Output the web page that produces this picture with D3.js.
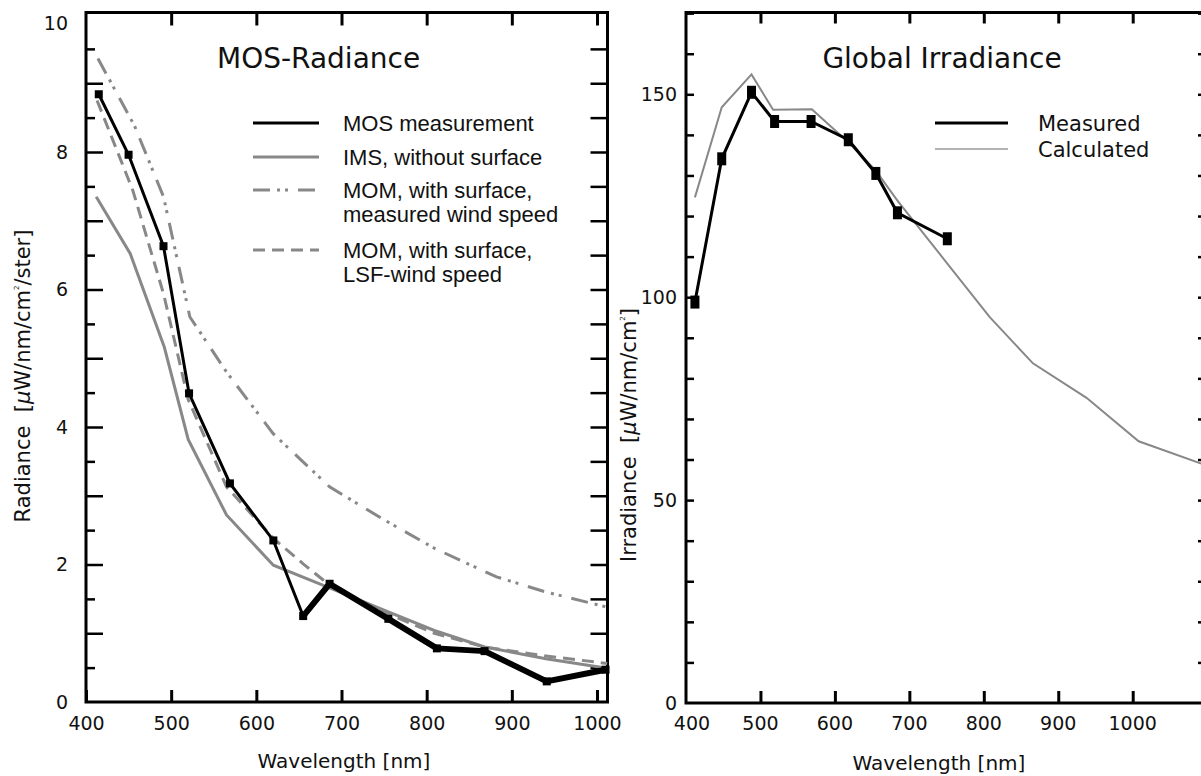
<!DOCTYPE html>
<html>
<head>
<meta charset="utf-8">
<script src="https://cdn.jsdelivr.net/npm/d3@7"></script>
<style>
  body { margin: 0; background: #fff; }
  .geo { font-family: 'DejaVu Sans', sans-serif; fill: #111; }
  .legend-text { font-family: 'Liberation Sans', Arial, sans-serif; font-size: 22px; fill: #111; }
</style>
</head>
<body>
<svg id="chart" width="1201" height="776"></svg>
<script>
// ---- MOS-Radiance panel data ----
const mosWavelength = [415, 450, 491, 521, 569, 620, 655, 686, 755, 812, 868, 941, 1010];
const mosRadiance   = [8.84, 7.96, 6.63, 4.49, 3.18, 2.35, 1.25, 1.72, 1.21, 0.78, 0.74, 0.30, 0.47];

const imsWavelength = [412, 452, 492, 520, 565, 620, 686, 755, 809, 868, 940, 1012];
const imsRadiance   = [7.35, 6.52, 5.16, 3.82, 2.72, 1.99, 1.66, 1.31, 1.04, 0.80, 0.63, 0.49];

const momMeasWavelength = [414, 457, 491, 522, 565, 620, 686, 750, 810, 882, 940, 1012];
const momMeasRadiance   = [9.36, 8.38, 7.35, 5.6, 4.8, 3.9, 3.13, 2.65, 2.23, 1.82, 1.60, 1.38];

const momLsfWavelength = [413, 455, 491, 520, 565, 620, 655, 686, 755, 809, 868, 940, 1012];
const momLsfRadiance   = [8.75, 7.44, 5.94, 4.4, 3.13, 2.38, 2.01, 1.70, 1.28, 1.0, 0.80, 0.67, 0.56];

const radianceLegend = [
  ['MOS measurement'],
  ['IMS, without surface'],
  ['MOM, with surface,', 'measured wind speed'],
  ['MOM, with surface,', 'LSF-wind speed']
];

// ---- Global Irradiance panel data ----
const measWavelength = [412, 448, 488, 519, 568, 618, 655, 684, 751];
const measIrradiance = [98.8, 134.1, 150.5, 143.3, 143.3, 138.8, 130.5, 120.8, 114.4];

const calcWavelength = [412, 448, 488, 517, 569, 618, 655, 684, 751, 808, 866, 938, 1008, 1092];
const calcIrradiance = [124.6, 146.8, 154.9, 146.2, 146.3, 138.2, 131.2, 123.8, 108.3, 95.1, 83.7, 75.2, 64.5, 59.0];

const irradianceLegend = ['Measured', 'Calculated'];

// ticks
const wavelengthTicks = [400, 500, 600, 700, 800, 900, 1000];
const radianceLabels = [0, 2, 4, 6, 8, 10];
const irradianceLabels = [0, 50, 100, 150];

const svg = d3.select('#chart');
const zip = (xs, ys) => xs.map((x, i) => [x, ys[i]]);
const grey = '#888';

// small helper: draw an axis, drop its domain line, style ticks
const drawAxis = (g, axis, tickWidth) => {
  g.call(axis);
  g.select('.domain').remove();
  g.selectAll('.tick line').attr('stroke', '#000').attr('stroke-width', tickWidth);
  g.selectAll('.tick text').attr('class', 'geo').attr('font-size', 19).attr('fill', '#111');
  return g;
};

// ================= Left panel =================
const xL = d3.scaleLinear().domain([400, 1000]).range([86, 597]);
const yL = d3.scaleLinear().domain([0, 10]).range([702, 14.5]);
const left = svg.append('g').attr('class', 'left-panel');

const halves = d3.range(0.5, 10, 0.5);
drawAxis(left.append('g').attr('transform', 'translate(0,702)'),
  d3.axisBottom(xL).tickValues(wavelengthTicks).tickSize(-12).tickPadding(15).tickFormat(d3.format('d')), 3);
drawAxis(left.append('g').attr('transform', 'translate(0,12.5)'),
  d3.axisTop(xL).tickValues(wavelengthTicks.slice(1)).tickSize(-13).tickFormat(''), 3);
drawAxis(left.append('g').attr('transform', 'translate(86,0)'),
  d3.axisLeft(yL).tickValues(halves.filter(d => d % 1 !== 0)).tickSize(-9).tickFormat(''), 2.5);
drawAxis(left.append('g').attr('transform', 'translate(86,0)'),
  d3.axisLeft(yL).tickValues(d3.range(1, 10)).tickSize(-17).tickFormat(''), 2.5);
// y labels (10 sits just under the frame top)
left.selectAll('text.ylab').data(radianceLabels).enter().append('text')
  .attr('class', 'geo ylab').attr('font-size', 19)
  .attr('x', 68).attr('y', d => Math.max(yL(d), 23)).attr('dy', '0.36em')
  .attr('text-anchor', 'end').text(d => d);
drawAxis(left.append('g').attr('transform', 'translate(607.5,0)'),
  d3.axisRight(yL).tickValues(halves).tickSize(-17).tickFormat(''), 2.5);

left.append('rect').attr('x', 86).attr('y', 12.5).attr('width', 521.5).attr('height', 689.5)
  .attr('fill', 'none').attr('stroke', '#000').attr('stroke-width', 3);

// titles
left.append('text').attr('class', 'geo').attr('font-size', 28)
  .attr('x', 217).attr('y', 68).text('MOS-Radiance');
left.append('text').attr('class', 'geo').attr('font-size', 20)
  .attr('x', 344).attr('y', 768).attr('text-anchor', 'middle').text('Wavelength [nm]');
const yTitleL = left.append('text').attr('class', 'geo').attr('font-size', 21)
  .attr('transform', 'translate(30,376) rotate(-90)').attr('text-anchor', 'middle');
yTitleL.append('tspan').text('Radiance\u00a0\u00a0[');
yTitleL.append('tspan').attr('font-style', 'italic').text('\u00b5');
yTitleL.append('tspan').text('W/nm/cm');
yTitleL.append('tspan').attr('font-size', 7).attr('dy', -11).text('2');
yTitleL.append('tspan').attr('dy', 11).text('/ster]');

const lineL = d3.line().x(d => xL(d[0])).y(d => yL(d[1]));

const styleDashDot = '17,7,3,5,3,10';
const styleDash = '12,7';

left.append('path').datum(zip(imsWavelength, imsRadiance)).attr('d', lineL)
  .attr('fill', 'none').attr('stroke', grey).attr('stroke-width', 3);
left.append('path').datum(zip(momMeasWavelength, momMeasRadiance)).attr('d', lineL)
  .attr('fill', 'none').attr('stroke', grey).attr('stroke-width', 3).attr('stroke-dasharray', styleDashDot);
left.append('path').datum(zip(momLsfWavelength, momLsfRadiance)).attr('d', lineL)
  .attr('fill', 'none').attr('stroke', grey).attr('stroke-width', 3).attr('stroke-dasharray', styleDash);

// MOS measurement: thin until 655 nm, heavier beyond
const mos = zip(mosWavelength, mosRadiance);
left.append('path').datum(mos.slice(0, 7)).attr('d', lineL)
  .attr('fill', 'none').attr('stroke', '#000').attr('stroke-width', 3);
left.append('path').datum(mos.slice(6)).attr('d', lineL)
  .attr('fill', 'none').attr('stroke', '#000').attr('stroke-width', 6).attr('stroke-linejoin', 'round');
left.selectAll('rect.mos').data(mos).enter().append('rect')
  .attr('class', 'mos')
  .attr('x', d => xL(d[0]) - 4).attr('y', d => yL(d[1]) - 4)
  .attr('width', 8).attr('height', 8).attr('fill', '#000');

// legend
const legendStyles = [
  { stroke: '#000', dash: null },
  { stroke: grey, dash: null },
  { stroke: grey, dash: styleDashDot },
  { stroke: grey, dash: styleDash }
];
const legendRowY = [123, 157, 190, 250];
const legL = left.append('g').attr('class', 'legend');
radianceLegend.forEach((lines, i) => {
  legL.append('line').attr('x1', 253).attr('x2', 319)
    .attr('y1', legendRowY[i]).attr('y2', legendRowY[i])
    .attr('stroke', legendStyles[i].stroke).attr('stroke-width', 3)
    .attr('stroke-dasharray', legendStyles[i].dash);
  lines.forEach((t, j) => {
    legL.append('text').attr('class', 'legend-text')
      .attr('x', 343).attr('y', legendRowY[i] + j * 24).attr('dy', '0.36em').text(t);
  });
});

// ================= Right panel =================
const xR = d3.scaleLinear().domain([400, 1000]).range([686, 1132.7]);
const yR = d3.scaleLinear().domain([0, 150]).range([703, 94.3]);
const right = svg.append('g').attr('class', 'right-panel');

const tens = d3.range(10, 180, 10);
const wlTicksFull = wavelengthTicks.concat([1100]);
drawAxis(right.append('g').attr('transform', 'translate(0,703)'),
  d3.axisBottom(xR).tickValues(wlTicksFull.slice(1)).tickSize(-12).tickFormat(''), 3);
right.selectAll('text.xlab').data(wavelengthTicks).enter().append('text')
  .attr('class', 'geo xlab').attr('font-size', 19)
  .attr('x', d => xR(d) + (d === 400 ? 6 : 0)).attr('y', 723).attr('dy', '0.36em')
  .attr('text-anchor', 'middle').text(d => d);
drawAxis(right.append('g').attr('transform', 'translate(0,12.5)'),
  d3.axisTop(xR).tickValues(wlTicksFull.slice(1)).tickSize(-11).tickFormat(''), 3);
drawAxis(right.append('g').attr('transform', 'translate(686,0)'),
  d3.axisLeft(yR).tickValues(tens).tickSize(-8).tickFormat(''), 2.5);
right.selectAll('text.ylab').data(irradianceLabels).enter().append('text')
  .attr('class', 'geo ylab').attr('font-size', 19)
  .attr('x', 677).attr('y', d => yR(d)).attr('dy', '0.36em')
  .attr('text-anchor', 'end').text(d => d);
drawAxis(right.append('g').attr('transform', 'translate(1206,0)'),
  d3.axisRight(yR).tickValues(tens).tickSize(-8).tickFormat(''), 2.5);

right.append('rect').attr('x', 686).attr('y', 12.5).attr('width', 520).attr('height', 690.5)
  .attr('fill', 'none').attr('stroke', '#000').attr('stroke-width', 3);

right.append('text').attr('class', 'geo').attr('font-size', 28)
  .attr('x', 942).attr('y', 68).attr('text-anchor', 'middle').text('Global Irradiance');
right.append('text').attr('class', 'geo').attr('font-size', 20)
  .attr('x', 939).attr('y', 770).attr('text-anchor', 'middle').text('Wavelength [nm]');
const yTitleR = right.append('text').attr('class', 'geo').attr('font-size', 21)
  .attr('transform', 'translate(636,435) rotate(-90)').attr('text-anchor', 'middle');
yTitleR.append('tspan').text('Irradiance\u00a0\u00a0[');
yTitleR.append('tspan').attr('font-style', 'italic').text('\u00b5');
yTitleR.append('tspan').text('W/nm/cm');
yTitleR.append('tspan').attr('font-size', 7).attr('dy', -11).text('2');
yTitleR.append('tspan').attr('dy', 11).text(']');

const lineR = d3.line().x(d => xR(d[0])).y(d => yR(d[1]));
right.append('path').datum(zip(calcWavelength, calcIrradiance)).attr('d', lineR)
  .attr('fill', 'none').attr('stroke', grey).attr('stroke-width', 2);
const meas = zip(measWavelength, measIrradiance);
right.append('path').datum(meas).attr('d', lineR)
  .attr('fill', 'none').attr('stroke', '#000').attr('stroke-width', 3);
right.selectAll('rect.meas').data(meas).enter().append('rect')
  .attr('class', 'meas')
  .attr('x', d => xR(d[0]) - 4.5).attr('y', d => yR(d[1]) - 6.5)
  .attr('width', 9).attr('height', 13).attr('fill', '#000');

// legend
const legR = right.append('g').attr('class', 'legend');
irradianceLegend.forEach((t, i) => {
  const y = 123 + i * 26;
  legR.append('line').attr('x1', 935).attr('x2', 1008).attr('y1', y).attr('y2', y)
    .attr('stroke', i === 0 ? '#000' : '#999').attr('stroke-width', i === 0 ? 3 : 1.5);
  legR.append('text').attr('class', 'geo').attr('font-size', 21)
    .attr('x', 1038).attr('y', y).attr('dy', '0.36em').text(t);
});
</script>
</body>
</html>
